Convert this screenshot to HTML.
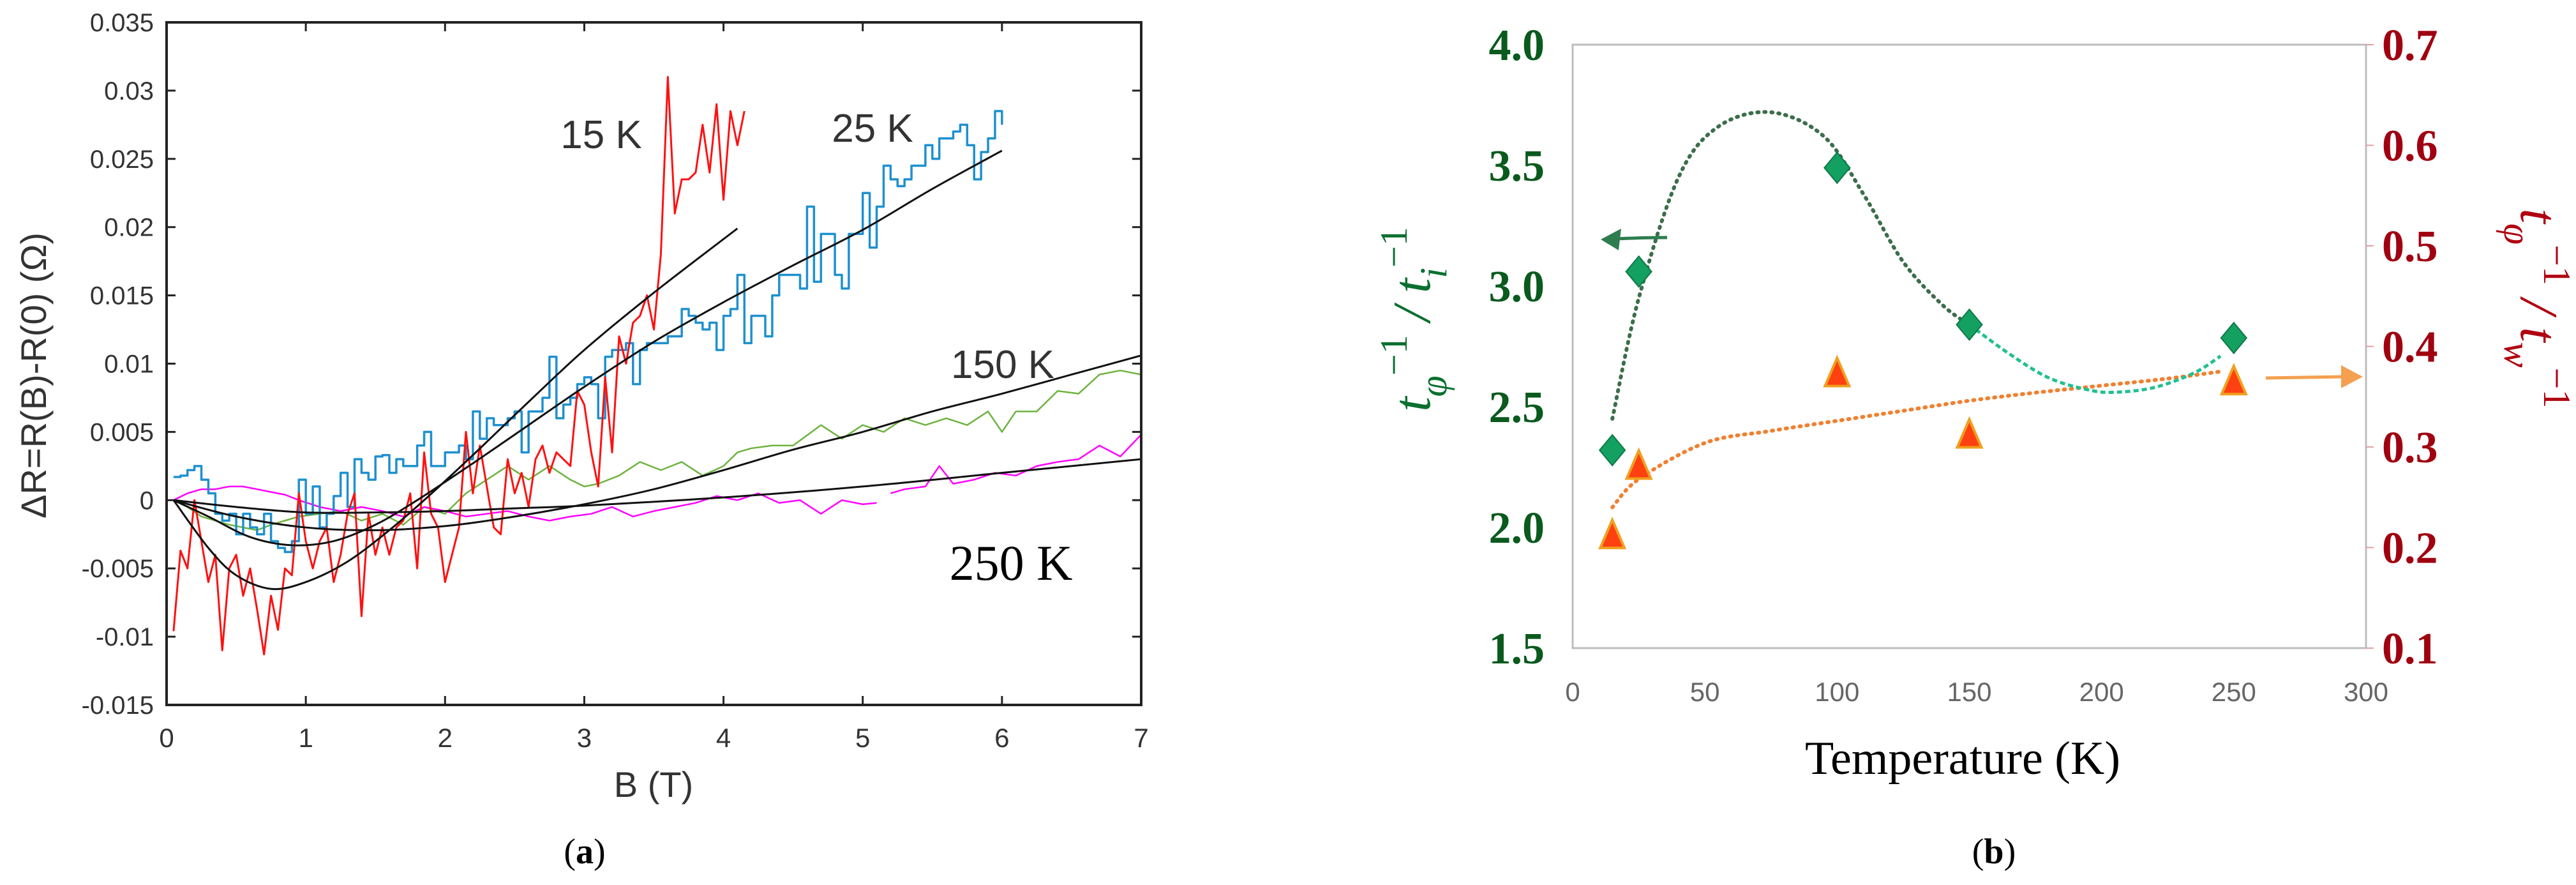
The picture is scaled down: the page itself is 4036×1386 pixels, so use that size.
<!DOCTYPE html>
<html><head><meta charset="utf-8"><style>
html,body{margin:0;padding:0;background:#fff}
svg{display:block}
</style></head><body>
<svg id="fig" width="4036" height="1386" viewBox="0 0 4036 1386" xmlns="http://www.w3.org/2000/svg">
<g id="pa"></g>
<g id="pb"></g>
</svg>
<script>
// ---------- Panel (a) data ----------
const aXTicks=[0,1,2,3,4,5,6,7];
const aYTicks=[-0.015,-0.01,-0.005,0,0.005,0.01,0.015,0.02,0.025,0.03,0.035];
const aYTickLabels=["-0.015","-0.01","-0.005","0","0.005","0.01","0.015","0.02","0.025","0.03","0.035"];
const red15B=[0.05,0.1,0.15,0.2,0.25,0.3,0.35,0.4,0.45,0.5,0.55,0.6,0.65,0.7,0.75,0.8,0.85,0.9,0.95,1.0,1.05,1.1,1.15,1.2,1.25,1.3,1.35,1.4,1.45,1.5,1.55,1.6,1.65,1.7,1.75,1.8,1.85,1.9,1.95,2.0,2.05,2.1,2.15,2.2,2.25,2.3,2.35,2.4,2.45,2.5,2.55,2.6,2.65,2.7,2.75,2.8,2.9,2.95,3.0,3.05,3.1,3.15,3.2,3.25,3.3,3.35,3.4,3.45,3.5,3.55,3.6,3.65,3.7,3.75,3.8,3.85,3.9,3.95,4.0,4.05,4.1,4.15];
const red15V=[-0.0096,-0.0037,-0.005,0.0,-0.003,-0.006,-0.004,-0.011,-0.005,-0.004,-0.007,-0.005,-0.008,-0.0113,-0.007,-0.0095,-0.005,-0.0055,0.0005,-0.003,-0.005,-0.003,-0.002,-0.006,-0.004,-0.001,0.0005,-0.0085,-0.001,-0.004,-0.002,-0.004,-0.002,-0.0015,0.0005,-0.005,0.0035,-0.001,-0.002,-0.006,-0.004,-0.002,0.005,0.0005,0.004,0.001,-0.002,-0.0025,0.003,0.0005,0.002,-0.0005,0.003,0.004,0.002,0.0035,0.0025,0.008,0.007,0.0035,0.001,0.009,0.0035,0.012,0.01,0.013,0.0135,0.015,0.0125,0.018,0.031,0.021,0.0235,0.0235,0.024,0.0275,0.024,0.029,0.022,0.0285,0.026,0.0285];
const blue25B=[0.05,0.1,0.15,0.2,0.25,0.3,0.35,0.4,0.45,0.5,0.55,0.6,0.65,0.7,0.75,0.8,0.85,0.9,0.95,1.0,1.05,1.1,1.15,1.2,1.25,1.3,1.35,1.4,1.45,1.5,1.55,1.6,1.65,1.7,1.8,1.85,1.9,2.0,2.1,2.15,2.2,2.25,2.3,2.35,2.4,2.45,2.5,2.55,2.6,2.7,2.75,2.8,2.85,2.9,2.95,3.0,3.05,3.1,3.15,3.2,3.3,3.35,3.4,3.45,3.5,3.6,3.7,3.75,3.8,3.85,3.9,3.95,4.0,4.05,4.1,4.15,4.2,4.3,4.35,4.4,4.5,4.55,4.6,4.65,4.7,4.8,4.85,4.9,4.95,5.0,5.05,5.1,5.15,5.2,5.25,5.3,5.35,5.4,5.45,5.5,5.55,5.6,5.65,5.7,5.75,5.8,5.85,5.9,5.95,6.0];
const blue25V=[0.0017,0.0018,0.0022,0.0025,0.0015,0.0005,-0.001,-0.0015,-0.001,-0.0025,-0.001,-0.002,-0.0025,-0.001,-0.003,-0.0035,-0.0038,-0.003,0.0015,-0.001,0.001,-0.002,-0.001,0.0003,0.002,-0.0005,0.003,0.002,0.0015,0.0032,0.0033,0.002,0.003,0.0025,0.004,0.005,0.0025,0.0035,0.004,0.003,0.0065,0.0045,0.006,0.0055,0.0055,0.006,0.0065,0.0035,0.0065,0.0075,0.0105,0.006,0.007,0.0075,0.0085,0.009,0.0085,0.006,0.0105,0.011,0.0115,0.0085,0.011,0.0115,0.0115,0.012,0.014,0.0135,0.013,0.0125,0.013,0.011,0.0135,0.014,0.0165,0.0115,0.0135,0.012,0.015,0.0165,0.0165,0.0155,0.0215,0.016,0.0195,0.0165,0.0155,0.0195,0.0195,0.0225,0.0185,0.0215,0.0245,0.0235,0.023,0.0235,0.0245,0.0245,0.026,0.025,0.0265,0.0265,0.027,0.0275,0.026,0.0235,0.0255,0.0265,0.0285,0.0275];
const green150B=[0.05,0.15,0.25,0.35,0.45,0.55,0.65,0.75,0.85,0.95,1.1,1.25,1.4,1.55,1.7,1.85,2.0,2.15,2.3,2.45,2.6,2.75,2.9,3.0,3.1,3.25,3.4,3.55,3.7,3.85,4.0,4.1,4.2,4.35,4.5,4.7,4.85,5.0,5.15,5.3,5.45,5.6,5.75,5.9,6.0,6.1,6.25,6.4,6.55,6.7,6.85,7.0];
const green150V=[0.0,-0.0005,-0.0012,-0.0015,-0.0018,-0.002,-0.0022,-0.0018,-0.0015,-0.0012,-0.001,-0.0008,-0.0015,-0.001,-0.0018,-0.0005,-0.001,0.0005,0.0015,0.0025,0.0015,0.0025,0.0015,0.001,0.0012,0.0018,0.0028,0.0022,0.0028,0.0018,0.0025,0.0035,0.0038,0.004,0.004,0.0055,0.0045,0.0055,0.005,0.006,0.0055,0.006,0.0055,0.0065,0.005,0.0065,0.0065,0.008,0.0078,0.0092,0.0095,0.0092];
const mag250B=[0.05,0.15,0.25,0.35,0.45,0.55,0.65,0.75,0.85,0.95,1.1,1.25,1.4,1.55,1.7,1.85,2.0,2.15,2.3,2.45,2.6,2.75,2.9,3.05,3.2,3.35,3.5,3.65,3.8,3.95,4.1,4.25,4.4,4.55,4.7,4.85,5.0,5.1];
const mag250V=[0.0,0.0005,0.0008,0.0008,0.001,0.001,0.0008,0.0006,0.0004,0.0,-0.0005,-0.0008,-0.0005,-0.0008,-0.0012,-0.0005,-0.0008,-0.0012,-0.001,-0.0008,-0.0012,-0.0015,-0.0012,-0.001,-0.0005,-0.0012,-0.0008,-0.0005,-0.0002,0.0003,0.0,0.0005,-0.0002,0.0,-0.001,0.0,-0.0003,-0.0002];
const mag250bB=[5.2,5.3,5.45,5.55,5.65,5.8,5.95,6.1,6.25,6.4,6.55,6.7,6.85,7.0];
const mag250bV=[0.0005,0.0008,0.001,0.0025,0.0012,0.0015,0.002,0.0018,0.0025,0.0028,0.003,0.004,0.0032,0.0048];
const fit15B=[0.05,0.3,0.5,0.75,1.0,1.3,1.6,1.85,2.2,2.6,3.0,3.5,4.1];
const fit15V=[0,-0.0035,-0.0055,-0.0065,-0.006,-0.0045,-0.0022,0,0.0033,0.0072,0.011,0.0152,0.0199];
const fit25B=[0.05,0.3,0.6,0.9,1.2,1.5,1.8,2.2,2.6,3.0,3.5,4.0,4.5,5.0,5.5,6.0];
const fit25V=[0,-0.0012,-0.0027,-0.0033,-0.003,-0.0018,0,0.0027,0.0055,0.0083,0.0116,0.0145,0.0172,0.0198,0.0228,0.0256];
const fit150B=[0.05,0.5,1.0,1.5,2.0,2.5,3.0,3.5,4.0,4.5,5.0,5.5,6.0,6.5,7.0];
const fit150V=[0,-0.0012,-0.002,-0.0022,-0.0019,-0.0012,-0.0003,0.0008,0.0022,0.0037,0.005,0.0065,0.0078,0.0092,0.0106];
const fit250B=[0.05,0.5,1.0,1.5,2.0,2.5,3.0,4.0,5.0,6.0,7.0];
const fit250V=[0,-0.0005,-0.0009,-0.0009,-0.0008,-0.0006,-0.0004,0.0002,0.001,0.002,0.003];
const aSeriesLabels=["15 K","25 K","150 K","250 K"];

// ---------- Panel (b) data ----------
const bXTicks=[0,50,100,150,200,250,300];
const bLeftTicks=[1.5,2.0,2.5,3.0,3.5,4.0];
const bLeftTickLabels=["1.5","2.0","2.5","3.0","3.5","4.0"];
const bRightTicks=[0.1,0.2,0.3,0.4,0.5,0.6,0.7];
const bRightTickLabels=["0.1","0.2","0.3","0.4","0.5","0.6","0.7"];
const diamondT=[15,25,100,150,250];
const diamondV=[2.32,3.06,3.49,2.84,2.785];
const triT=[15,25,100,150,250];
const triV=[0.211,0.28,0.372,0.311,0.364];
const gDotT=[15,25,40,55,75,95,110,125,140,150];
const gDotV=[2.45,2.95,3.45,3.66,3.72,3.62,3.38,3.1,2.92,2.84];
const tealT=[150,165,180,195,205,220,235,245];
const tealV=[2.84,2.72,2.62,2.57,2.56,2.58,2.64,2.71];
const oDotT=[15,25,50,75,100,125,150,175,200,225,245];
const oDotV=[0.24,0.268,0.304,0.316,0.326,0.336,0.346,0.354,0.361,0.368,0.375];

const NS="http://www.w3.org/2000/svg";
function mk(parent,tag,attrs,text){const e=document.createElementNS(NS,tag);for(const k in attrs)e.setAttribute(k,attrs[k]);if(text!==undefined)e.textContent=text;parent.appendChild(e);return e;}
function smooth(pts){let d="M"+pts[0][0]+","+pts[0][1];for(let i=0;i<pts.length-1;i++){const p0=pts[i-1]||pts[i],p1=pts[i],p2=pts[i+1],p3=pts[i+2]||p2;d+=" C"+(p1[0]+(p2[0]-p0[0])/6)+","+(p1[1]+(p2[1]-p0[1])/6)+" "+(p2[0]-(p3[0]-p1[0])/6)+","+(p2[1]-(p3[1]-p1[1])/6)+" "+p2[0]+","+p2[1];}return d;}

// ---------- Panel (a) ----------
const pa=document.getElementById('pa');
const aL=261,aR=1788,aT=35,aB=1104;
const ax=v=>aL+(v-0)/7*(aR-aL);
const ay=v=>aB-(v+0.015)/0.05*(aB-aT);
let e;
aYTicks.forEach((t,i)=>{
  e=mk(pa,'line',{x1:aL,y1:ay(t),x2:aL+14,y2:ay(t),stroke:'#222','stroke-width':3});
  
  e=mk(pa,'line',{x1:aR,y1:ay(t),x2:aR-14,y2:ay(t),stroke:'#222','stroke-width':3});
  
  e=mk(pa,'text',{x:aL-20,y:ay(t)+14,'text-anchor':'end','font-family':'Liberation Sans, sans-serif','font-size':40,fill:'#333'},aYTickLabels[i]);
  
});
aXTicks.forEach(t=>{
  e=mk(pa,'line',{x1:ax(t),y1:aB,x2:ax(t),y2:aB-14,stroke:'#222','stroke-width':3});
  
  e=mk(pa,'line',{x1:ax(t),y1:aT,x2:ax(t),y2:aT+14,stroke:'#222','stroke-width':3});
  
  e=mk(pa,'text',{x:ax(t),y:aB+66,'text-anchor':'middle','font-family':'Liberation Sans, sans-serif','font-size':42,fill:'#333'},String(t));
  
});
function polyA(B,V,color,w,name,step){
  let d="";
  B.forEach((b,i)=>{const x=ax(b),y=ay(V[i]);
    if(i===0)d="M"+x+","+y;else if(step){d+=" H"+x+" V"+y;}else d+=" L"+x+","+y;});
  e=mk(pa,'path',{d:d,fill:'none',stroke:color,'stroke-width':w,'stroke-linejoin':'round'});
  
}
polyA(green150B,green150V,'#6db33f',2.5,'series-150k',false);
polyA(mag250B,mag250V,'#ff00ff',2.5,'series-250k',false);
polyA(mag250bB,mag250bV,'#ff00ff',2.5,'series-250k-b',false);
polyA(blue25B,blue25V,'#1e90d0',3.5,'series-25k',true);
polyA(red15B,red15V,'#ff1010',3,'series-15k',false);
[[fit15B,fit15V,'fit-15k'],[fit25B,fit25V,'fit-25k'],[fit150B,fit150V,'fit-150k'],[fit250B,fit250V,'fit-250k']].forEach(f=>{
  e=mk(pa,'path',{d:smooth(f[0].map((b,i)=>[ax(b),ay(f[1][i])])),fill:'none',stroke:'#111','stroke-width':3});
  
});
e=mk(pa,'rect',{x:aL,y:aT,width:aR-aL,height:aB-aT,fill:'none',stroke:'#222','stroke-width':4});

const lblPos=[[942,232,'sans'],[1367,222,'sans'],[1571,592,'sans'],[1584,908,'serif']];
aSeriesLabels.forEach((s,i)=>{
  const p=lblPos[i];
  e=mk(pa,'text',{x:p[0],y:p[1],'text-anchor':'middle','font-family':p[2]==='serif'?'Liberation Serif, serif':'Liberation Sans, sans-serif','font-size':p[2]==='serif'?78:62,fill:p[2]==='serif'?'#000':'#333'},s);
  
});
e=mk(pa,'text',{x:0,y:0,transform:'translate(72,588) rotate(-90)','text-anchor':'middle','font-family':'Liberation Sans, sans-serif','font-size':56,fill:'#333'},'ΔR=R(B)-R(0) (Ω)');

e=mk(pa,'text',{x:1024,y:1248,'text-anchor':'middle','font-family':'Liberation Sans, sans-serif','font-size':56,fill:'#333'},'B (T)');

e=mk(pa,'text',{x:916,y:1352,'text-anchor':'middle','font-family':'Liberation Serif, serif','font-size':56,fill:'#000'},'');
e.innerHTML='(<tspan font-weight="bold">a</tspan>)';


// ---------- Panel (b) ----------
const pb=document.getElementById('pb');
const bL=2464,bR=3707,bT=70,bB=1015;
const bx=v=>bL+v/300*(bR-bL);
const byL=v=>bB-(v-1.5)/2.5*(bB-bT);
const byR=v=>bB-(v-0.1)/0.6*(bB-bT);
e=mk(pb,'rect',{x:bL,y:bT,width:bR-bL,height:bB-bT,fill:'none',stroke:'#bdbdbd','stroke-width':3});

bXTicks.forEach(t=>{
  e=mk(pb,'text',{x:bx(t),y:1098,'text-anchor':'middle','font-family':'Liberation Sans, sans-serif','font-size':42,fill:'#666'},String(t));
  
});
bLeftTicks.forEach((t,i)=>{
  e=mk(pb,'text',{x:2420,y:byL(t)+24,'text-anchor':'end','font-family':'Liberation Serif, serif','font-weight':'bold','font-size':70,fill:'#0a5a1e'},bLeftTickLabels[i]);
  
});
bRightTicks.forEach((t,i)=>{
  e=mk(pb,'line',{x1:bR,y1:byR(t),x2:bR+12,y2:byR(t),stroke:'#e0a0a0','stroke-width':2});
  
  e=mk(pb,'text',{x:3732,y:byR(t)+24,'text-anchor':'start','font-family':'Liberation Serif, serif','font-weight':'bold','font-size':70,fill:'#a00010'},bRightTickLabels[i]);
  
});
e=mk(pb,'path',{d:smooth(oDotT.map((t,i)=>[bx(t),byR(oDotV[i])])),fill:'none',stroke:'#f08030','stroke-width':6,'stroke-dasharray':'2 9','stroke-linecap':'round'});

e=mk(pb,'path',{d:smooth(gDotT.map((t,i)=>[bx(t),byL(gDotV[i])])),fill:'none',stroke:'#3b6e4a','stroke-width':6,'stroke-dasharray':'2 9','stroke-linecap':'round'});

e=mk(pb,'path',{d:smooth(tealT.map((t,i)=>[bx(t),byL(tealV[i])])),fill:'none',stroke:'#20c090','stroke-width':5,'stroke-dasharray':'8 5'});

diamondT.forEach((t,i)=>{
  const x=bx(t),y=byL(diamondV[i]);
  e=mk(pb,'polygon',{points:`${x},${y-24} ${x+20},${y} ${x},${y+24} ${x-20},${y}`,fill:'#14a060',stroke:'#0d7a48','stroke-width':2});
  
});
triT.forEach((t,i)=>{
  const x=bx(t),y=byR(triV[i]);
  e=mk(pb,'polygon',{points:`${x},${y-26} ${x+19},${y+18} ${x-19},${y+18}`,fill:'#ff4010',stroke:'#f0a020','stroke-width':4});
  
});
e=mk(pb,'path',{d:'M2612,372 Q2570,372 2512,375',fill:'none',stroke:'#2e7d4f','stroke-width':5});

e=mk(pb,'polygon',{points:'2508,375 2540,358 2536,392',fill:'#2e7d4f'});

e=mk(pb,'line',{x1:3550,y1:592,x2:3672,y2:590,stroke:'#f4a050','stroke-width':5});

e=mk(pb,'polygon',{points:'3702,590 3668,572 3668,608',fill:'#f4a050'});

e=mk(pb,'text',{x:0,y:0,transform:'translate(2240,500) rotate(-90)','text-anchor':'middle','font-family':'Liberation Serif, serif','font-style':'italic','font-size':84,fill:'#0a7030'},'');
e.innerHTML='t<tspan font-size="60" dy="26">φ</tspan><tspan font-size="60" dy="-62" font-style="normal">−1</tspan><tspan dy="36"> / t</tspan><tspan font-size="60" dy="26">i</tspan><tspan font-size="60" dy="-62" font-style="normal">−1</tspan>';

e=mk(pb,'text',{x:0,y:0,transform:'translate(3950,483) rotate(90)','text-anchor':'middle','font-family':'Liberation Serif, serif','font-style':'italic','font-size':84,fill:'#b00010'},'');
e.innerHTML='t<tspan font-size="60" dy="26">φ</tspan><tspan font-size="60" dy="-62" font-style="normal">−1</tspan><tspan dy="36"> / t</tspan><tspan font-size="60" dy="26">w</tspan><tspan font-size="60" dy="-62" font-style="normal">−1</tspan>';

e=mk(pb,'text',{x:3075,y:1212,'text-anchor':'middle','font-family':'Liberation Serif, serif','font-size':74,fill:'#000'},'Temperature (K)');

e=mk(pb,'text',{x:3124,y:1352,'text-anchor':'middle','font-family':'Liberation Serif, serif','font-size':56,fill:'#000'},'');
e.innerHTML='(<tspan font-weight="bold">b</tspan>)';

</script>
</body></html>
